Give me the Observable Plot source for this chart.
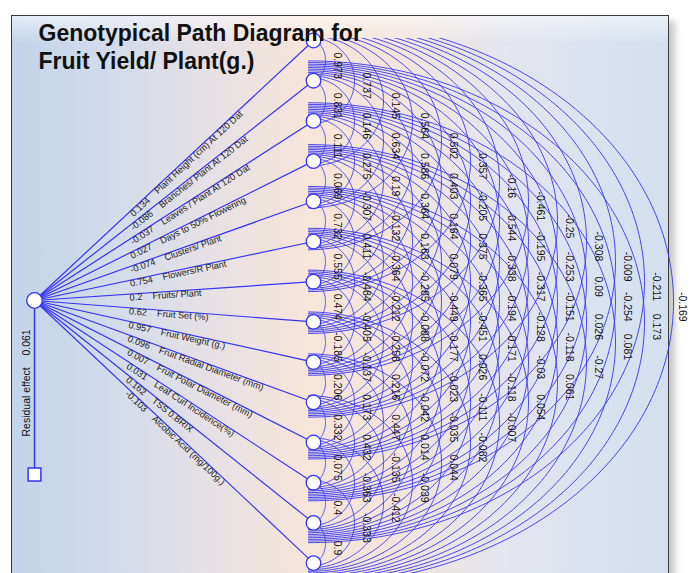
<!DOCTYPE html>
<html>
<head>
<meta charset="utf-8">
<script src="https://cdn.jsdelivr.net/npm/d3@7"></script>
<script src="https://cdn.jsdelivr.net/npm/@observablehq/plot@0.6"></script>
<style>
  body { margin: 0; background: #ffffff; }
  #wrap { position: relative; width: 690px; height: 573px; overflow: hidden; background: #fff; }
  #panel {
    position: absolute; left: 11px; top: 15px; width: 656px; height: 575px;
    border: 1px solid #3a3a3a;
    box-shadow: 6px 6px 7px rgba(0,0,0,0.22);
    background: linear-gradient(90deg, #c2d4ea 0%, #d3dbea 15%, #e8e1e4 32%, #f6e5d9 45%, #f3e5dc 58%, #e4e5ee 75%, #d9e2ef 90%, #d4dfee 100%);
  }
  #gloss {
    position: absolute; left: 12px; top: 16px; width: 656px; height: 28px;
    background: linear-gradient(180deg, rgba(255,255,255,0.55), rgba(255,255,255,0));
  }
  #chart { position: absolute; left: 0; top: 0; }
</style>
</head>
<body>
<div id="wrap">
  <div id="panel"></div>
  <div id="gloss"></div>
  <div id="chart"></div>
</div>
<script>
// ---------------- data ----------------
const titleLines = ["Genotypical Path Diagram for", "Fruit Yield/ Plant(g.)"];

const variables = [
  "Plant Height (cm) At 120 Dat",
  "Branches/ Plant At 120 Dat",
  "Leaves / Plant At 120 Dat",
  "Days to 50% Flowering",
  "Clusters/ Plant",
  "Flowers/R Plant",
  "Fruits/ Plant",
  "Fruit Set (%)",
  "Fruit Weight (g.)",
  "Fruit Radial Diameter (mm)",
  "Fruit Polar Diameter (mm)",
  "Leaf Curl Incidence(%)",
  "TSS 0.BRIX",
  "Alcobic Acid (mg/100g.)"
];

const directEffects = [0.134, -0.086, -0.037, 0.027, -0.074, 0.754, 0.2, 0.62, 0.957, 0.096, 0.007, 0.031, 0.162, -0.103];

const residualEffect = 0.061;
const residualLabel = "Residual effect";

// correlations between variable i and variable i+lag
const lag1  = [0.973, 0.831, 0.111, 0.069, 0.732, 0.555, 0.474, -0.185, 0.206, 0.332, 0.075, 0.4, 0.9];
const lag2  = [0.737, 0.146, 0.275, -0.307, 0.411, -0.484, -0.405, -0.137, 0.173, 0.432, -0.363, -0.333];
const lag3  = [0.145, 0.634, 0.19, -0.132, -0.364, -0.212, -0.258, 0.216, 0.447, -0.135, -0.412];
const lag4  = [0.564, 0.586, 0.364, 0.163, -0.285, -0.088, -0.072, -0.042, 0.014, -0.039];
const lag5  = [0.502, 0.403, 0.164, 0.079, -0.449, -0.177, -0.023, -0.035, 0.044];
const lag6  = [0.357, -0.205, 0.375, -0.365, -0.451, 0.026, -0.111, -0.082];
const lag7  = [-0.16, -0.544, -0.338, -0.194, -0.171, -0.118, -0.007];
const lag8  = [-0.461, -0.195, -0.317, -0.128, -0.03, 0.054];
const lag9  = [-0.25, -0.253, -0.151, -0.118, 0.061];
const lag10 = [-0.308, 0.09, 0.026, -0.27];
const lag11 = [-0.009, -0.254, 0.081];
const lag12 = [-0.211, 0.173];
const lag13 = [-0.169];

// ---------------- layout ----------------
const lags = [lag1, lag2, lag3, lag4, lag5, lag6, lag7, lag8, lag9, lag10, lag11, lag12, lag13];
const blue = "#3434f4";
const nodeX = 313, nodeTop = 40, nodeStep = 40.2;
const arcCx = 308;
const hub = {x: 34, y: 300};
const residualBox = {x: 34, y: 474};
const lagX0 = 337, lagStep = 29.0, labelMaxX = 682;
const labelFrac = 0.34;
const overshoot = 1.082; // vertical half-axis of each arc relative to half the node gap

const nodes = variables.map((name, i) => ({i, name, effect: directEffects[i], x: nodeX, y: nodeTop + i * nodeStep}));

const arcPts = [];
const corrLabels = [];
lags.forEach((vals, k0) => {
  const k = k0 + 1;
  const apexX = lagX0 - 12 + k0 * lagStep;
  vals.forEach((v, i) => {
    const p = nodes[i], q = nodes[i + k];
    const ym = (p.y + q.y) / 2, h = (q.y - p.y) / 2;
    const a = apexX - arcCx, B = h * overshoot;
    const n = 180;
    for (let s = 0; s <= n; s++) {
      const t = -Math.PI / 2 + Math.PI * s / n;
      arcPts.push({id: i + "-" + k, x: arcCx + a * Math.cos(t), y: ym + B * Math.sin(t)});
    }
    corrLabels.push({x: Math.min(labelMaxX, lagX0 + k0 * lagStep), y: ym + 5, text: String(v)});
  });
});

const effectLabels = nodes.map(n => {
  const dx = n.x - hub.x, dy = n.y - hub.y;
  return {
    x: hub.x + labelFrac * dx,
    y: hub.y + labelFrac * dy,
    angle: Math.atan2(dy, dx) * 180 / Math.PI,
    text: String(n.effect) + "\u00a0\u00a0\u00a0\u00a0" + n.name
  };
});

const titleData = titleLines.map((t, i) => ({x: 38, y: 33.5 + i * 27.5, text: t}));

const chart = Plot.plot({
  width: 690, height: 573,
  marginTop: 38, marginBottom: 0, marginLeft: 0, marginRight: 0,
  x: {domain: [0, 690], range: [0, 690], axis: null},
  y: {domain: [38, 573], range: [38, 573], axis: null},
  style: {background: "transparent", fontFamily: "'Liberation Sans', Arial, sans-serif", overflow: "visible"},
  marks: [
    Plot.line(arcPts, {x: "x", y: "y", z: "id", stroke: blue, strokeWidth: 0.9, clip: true}),
    Plot.link(nodes, {x1: () => hub.x, y1: () => hub.y, x2: "x", y2: "y", stroke: blue, strokeWidth: 1.2}),
    Plot.link([residualBox], {x1: () => hub.x, y1: () => hub.y, x2: "x", y2: "y", stroke: blue, strokeWidth: 1.5}),
    Plot.dot(nodes, {x: "x", y: "y", r: 7.3, fill: "white", stroke: blue, strokeWidth: 1.3}),
    Plot.dot([hub], {x: "x", y: "y", r: 7.8, fill: "white", stroke: blue, strokeWidth: 1.3}),
    Plot.dot([residualBox], {x: "x", y: "y", r: 7.2, symbol: "square", fill: "white", stroke: blue, strokeWidth: 1.5}),
    Plot.text(corrLabels, {x: "x", y: "y", text: "text", rotate: 90, fontSize: 10.5, fill: "#111", textAnchor: "middle", lineAnchor: "middle"}),
    Plot.text(effectLabels, {x: "x", y: "y", text: "text", rotate: "angle", fontSize: 9.2, fill: "#222", textAnchor: "start", lineAnchor: "top"}),
    Plot.text([{x: 26, y: 436, text: residualLabel + "\u00a0\u00a0\u00a0\u00a0" + residualEffect}], {x: "x", y: "y", text: "text", rotate: -90, fontSize: 10.5, fill: "#111", textAnchor: "start", lineAnchor: "middle"}),
    Plot.text(titleData, {x: "x", y: "y", text: "text", fontSize: 23, fontWeight: "bold", fill: "#111", textAnchor: "start", lineAnchor: "middle"})
  ]
});
document.getElementById("chart").appendChild(chart);
</script>
</body>
</html>
